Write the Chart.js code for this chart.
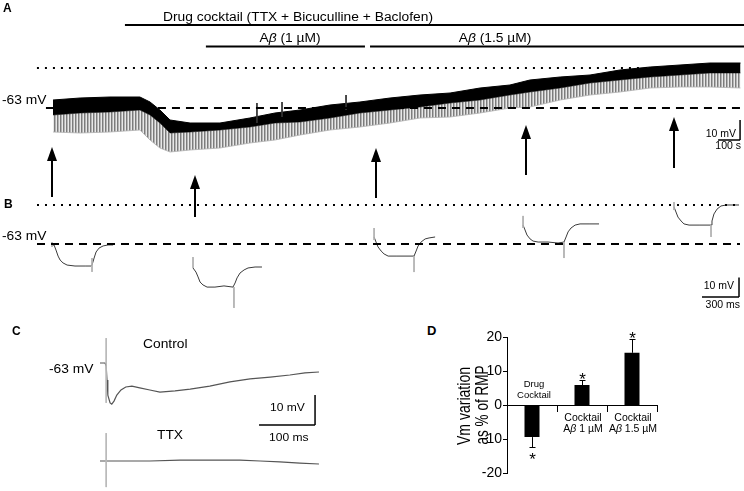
<!DOCTYPE html>
<html>
<head>
<meta charset="utf-8">
<title>Vm during drug cocktail and Aβ</title>
<script src="https://cdn.jsdelivr.net/npm/chart.js@4.4.1/dist/chart.umd.min.js"></script>
<style>
  html, body { margin: 0; padding: 0; background: #fff; }
  #fig { position: relative; width: 744px; height: 491px; overflow: hidden; font-family: "Liberation Sans", Arial, sans-serif; color: #000; }
  #fig canvas { position: absolute; }
  .lbl { position: absolute; white-space: nowrap; line-height: 1; }
</style>
</head>
<body>
<div id="fig">
  <canvas id="panelA" width="744" height="230" style="left:0px;top:0px"></canvas>
  <canvas id="panelB" width="744" height="130" style="left:0px;top:190px"></canvas>
  <canvas id="panelC" width="372" height="171" style="left:0px;top:320px"></canvas>
  <canvas id="panelD" width="270" height="171" style="left:450px;top:320px"></canvas>
</div>
<script>
// A: long recording, time in s, Vm in mV (band top, band bottom, end of the grey deflections)
const traceTime = [0, 123, 259, 395, 441, 486, 532, 623, 759, 895, 1009, 1123, 1259, 1395, 1532, 1668, 1805, 1941, 2077, 2168, 2305, 2441, 2577, 2714, 2850, 2986, 3125]
const traceTop = [-59, -58, -57.5, -57.5, -60, -64, -69, -70.5, -70.5, -68, -65.5, -64, -61.5, -60, -58, -56.5, -55.5, -53, -51.5, -49, -47.5, -46.5, -44, -42.5, -41.5, -40.5, -40.5]
const traceBase = [-66.5, -65.5, -65, -64, -66.5, -70.5, -75.5, -75, -74, -72.5, -70.5, -70, -68, -65.5, -64, -62.5, -60.5, -59, -56.5, -55, -53, -50.5, -49, -47.5, -46.5, -45.5, -45.5]
const traceDeflection = [-75, -75.5, -75, -74, -79, -83, -85, -84, -83, -80.5, -79, -76.5, -74, -72.5, -70.5, -68, -67.5, -65.5, -63, -62.5, -59, -56.5, -55, -53, -52.5, -52.5, -53]
const spikeTime = [927, 1041, 1332]
const spikeTop = [-60.5, -60, -56.5]
const spikeBottom = [-70.5, -67.5, -64]
const arrowTime = [-4.5, 645, 1468, 2150, 2823]
const arrowTip = [-82.5, -96.5, -83, -71.5, -67.5]
const arrowTail = [-107.5, -117.5, -108, -96.5, -93]
const drugStart = [327, 695, 1441]
const drugEnd = [3141, 1418, 3141]
const drugRow = [-21.5, -32.3, -32.3]
const restVm = -63
const finalVm = -43

// B: responses to hyperpolarizing steps, time in ms from sweep start
const sweepOffset = [422, 1565, 3033, 4241, 5465]
const sweepTime = [
  [0, 16, 32, 49, 65, 89, 122, 186, 268, 316, 324, 341, 357, 381, 414, 454, 495],
  [0, 24, 41, 57, 81, 114, 178, 251, 324, 341, 357, 381, 414, 446, 503, 559],
  [0, 16, 32, 57, 81, 114, 178, 259, 324, 341, 357, 381, 414, 446, 495],
  [0, 16, 32, 57, 81, 122, 203, 284, 332, 349, 365, 389, 422, 462, 535, 616],
  [0, 16, 32, 57, 81, 122, 203, 300, 308, 324, 349, 381, 422, 470, 527]
]
const sweepVm = [
  [-63.5, -63.5, -66.1, -69.2, -71.2, -72.7, -73.8, -74.3, -74.3, -74.3, -73.8, -70.2, -67.1, -65.1, -64.0, -63.5, -63.5],
  [-75.3, -77.4, -79.9, -82.5, -84.0, -85.1, -85.1, -84.5, -85.1, -83.0, -80.4, -77.9, -76.3, -75.3, -74.8, -74.8],
  [-59.4, -62.0, -64.5, -66.6, -68.1, -69.2, -69.2, -69.2, -69.2, -66.6, -64.0, -62.0, -60.4, -59.9, -59.4],
  [-53.3, -55.8, -58.4, -60.4, -61.5, -62.0, -62.0, -62.5, -62.0, -59.4, -56.8, -54.8, -53.3, -52.7, -52.7, -52.7],
  [-44.0, -46.6, -49.2, -51.2, -52.7, -53.3, -53.3, -53.3, -51.2, -47.6, -45.1, -43.5, -43.0, -43.0, -43.0]
]
const sweepOnVm = [[-62, -64.5], [-69.7, -75.3], [-54.8, -61.0], [-48.6, -54.8], [-41.5, -45.6]]
const sweepOffTime = [324, 332, 324, 332, 300]
const sweepOffVm = [[-70.2, -77.3], [-85.1, -95.8], [-69.2, -77.4], [-62.0, -70.2], [-53.3, -59.4]]

// C: single stimulus, time in ms
const controlTime = [0, 9, 11, 12.5, 14, 18, 21, 25, 30, 37.5, 46, 57, 71, 89, 107, 134, 161, 196, 232, 268, 304, 339, 366, 391]
const controlVm = [-63, -63, -64, -68.7, -73.7, -76.3, -76.7, -75.7, -73.7, -72, -71, -70.7, -71.3, -72, -72.7, -72.3, -71.7, -70.7, -69.3, -68.3, -67.7, -67, -66.3, -66]
const ttxTime = [0, 36, 89, 143, 196, 250, 286, 321, 357, 391]
const ttxVm = [-63, -63, -63, -62.7, -62.7, -62.7, -63, -63.3, -63.7, -64]
const stimTime = 11
const controlStimVm = [-54.7, -76.3]
const ttxStimVm = [-53.7, -71.7]
const ttxShift = -32.67

// D: Vm variation as % of RMP
const dCategories = [['Drug', 'Cocktail'], ['Cocktail', 'Aβ 1 µM'], ['Cocktail', 'Aβ 1.5 µM']]
const dValues = [-9.3, 6.0, 15.5]
const dErrors = [2.8, 1.5, 4.2]

const FONT = '"Liberation Sans", Arial, sans-serif'
Chart.defaults.font.family = FONT
Chart.defaults.color = '#000'

const $fig = document.getElementById('fig')

function addLabel (html, x, y, { size = 12, align = 'left', bold = false, stretch = 1, rotate = 0 } = {}) {
  const $el = document.createElement('div')
  $el.className = 'lbl'
  $el.innerHTML = html
  $el.style.left = x + 'px'
  $el.style.top = y + 'px'
  $el.style.fontSize = size + 'px'
  if (bold) $el.style.fontWeight = 'bold'
  const shift = { left: '0', center: '-50%', right: '-100%' }[align]
  $el.style.transformOrigin = align + ' center'
  $el.style.transform = `translate(${shift}, -50%) rotate(${rotate}deg) scaleX(${stretch})`
  $fig.appendChild($el)
}

const pts = (xs, ys, dx = 0, dy = 0) => xs.map((x, i) => ({ x: x + dx, y: ys[i] + dy }))

function seg (x0, x1, y0, y1, style = {}) {
  return { data: [{ x: x0, y: y0 }, { x: x1, y: y1 }], fill: false, borderColor: '#000', borderWidth: 1, ...style }
}

function stripes () {
  const c = document.createElement('canvas')
  c.width = 3
  c.height = 1
  const g = c.getContext('2d')
  g.fillStyle = '#7c7c7c'
  g.fillRect(0, 0, 1, 1)
  g.fillStyle = '#b4b4b4'
  g.fillRect(1, 0, 1, 1)
  g.fillStyle = '#e8e8e8'
  g.fillRect(2, 0, 1, 1)
  return g.createPattern(c, 'repeat')
}

function traceChart (id, xMin, xMax, yMin, yMax, datasets, plugins = []) {
  return new Chart(document.getElementById(id), {
    type: 'line',
    data: { datasets },
    plugins,
    options: {
      responsive: false,
      animation: false,
      devicePixelRatio: 1,
      events: [],
      layout: { padding: 0 },
      scales: {
        x: { type: 'linear', display: false, min: xMin, max: xMax },
        y: { type: 'linear', display: false, min: yMin, max: yMax }
      },
      elements: { point: { radius: 0 }, line: { tension: 0, borderCapStyle: 'butt' } },
      plugins: { legend: { display: false }, tooltip: { enabled: false } }
    }
  })
}

const arrowPlugin = {
  id: 'arrows',
  afterDatasetsDraw (chart) {
    const { ctx, scales: { x, y } } = chart
    ctx.save()
    ctx.fillStyle = '#000'
    ctx.strokeStyle = '#000'
    ctx.lineWidth = 2
    arrowTime.forEach((t, i) => {
      const px = Math.round(x.getPixelForValue(t))
      const tip = y.getPixelForValue(arrowTip[i])
      const tail = y.getPixelForValue(arrowTail[i])
      ctx.beginPath()
      ctx.moveTo(px, tail)
      ctx.lineTo(px, tip + 10)
      ctx.stroke()
      ctx.beginPath()
      ctx.moveTo(px, tip)
      ctx.lineTo(px - 5, tip + 14)
      ctx.lineTo(px + 5, tip + 14)
      ctx.closePath()
      ctx.fill()
    })
    ctx.restore()
  }
}

// Panel A
const panelA = [
  seg(-73, 3125, finalVm, finalVm, { borderWidth: 2, borderDash: [2, 6] }),
  seg(-32, 3125, restVm, restVm, { borderWidth: 2, borderDash: [8, 6] }),
  seg(3023, 3123, -79, -79, { borderWidth: 1.5 }),
  seg(3123, 3123, -79, -69, { borderWidth: 1.5 })
]
drugStart.forEach((t, i) => panelA.push(seg(t, drugEnd[i], drugRow[i], drugRow[i], { borderWidth: 2 })))
spikeTime.forEach((t, i) => panelA.push(seg(t, t, spikeTop[i], spikeBottom[i], { borderColor: '#333' })))
panelA.push(
  { data: pts(traceTime, traceTop), borderColor: '#000', borderWidth: 1, fill: false },
  { data: pts(traceTime, traceBase), borderColor: '#000', borderWidth: 0.5, fill: '-1', backgroundColor: '#000' },
  { data: pts(traceTime, traceDeflection), borderColor: '#b0b0b0', borderWidth: 0.8, fill: '-1', backgroundColor: stripes() }
)
traceChart('panelA', -240.9, 3140.9, -124, -9, panelA, [arrowPlugin])

// Panel B
const panelB = [
  seg(300, 6000, finalVm, finalVm, { borderWidth: 2, borderDash: [2, 6] }),
  seg(300, 6000, restVm, restVm, { borderWidth: 2, borderDash: [8, 6] }),
  seg(5692, 5992, -90.2, -90.2, { borderWidth: 1.5 }),
  seg(5992, 5992, -90.2, -80.2, { borderWidth: 1.5 })
]
sweepOffset.forEach((t0, i) => {
  panelB.push(seg(t0, t0, sweepOnVm[i][0], sweepOnVm[i][1], { borderColor: '#b0b0b0' }))
  panelB.push(seg(t0 + sweepOffTime[i], t0 + sweepOffTime[i], sweepOffVm[i][0], sweepOffVm[i][1], { borderColor: '#b0b0b0' }))
  panelB.push({ data: pts(sweepTime[i], sweepVm[i], t0), borderColor: '#3a3a3a', borderWidth: 1, fill: false })
})
traceChart('panelB', 0, 6032.5, -101.98, -35.31, panelB)

// Panel C
const panelC = [
  seg(284, 384, -83.67, -83.67, { borderWidth: 1.5 }),
  seg(384, 384, -83.67, -73.67, { borderWidth: 1.5 }),
  seg(stimTime, stimTime, controlStimVm[0], controlStimVm[1], { borderColor: '#b8b8b8' }),
  seg(stimTime, stimTime, ttxStimVm[0] + ttxShift, ttxStimVm[1] + ttxShift, { borderColor: '#b8b8b8' }),
  { data: pts(controlTime, controlVm), borderColor: '#555', borderWidth: 1.2, fill: false },
  { data: pts(ttxTime, ttxVm, 0, ttxShift), borderColor: '#555', borderWidth: 1.2, fill: false }
]
traceChart('panelC', -178.57, 485.7, -105.67, -48.67, panelC)

// Panel D
function drawRich (ctx, text, cx, cy, size) {
  const parts = text.split(/(β)/).filter(Boolean)
  const fontFor = (p) => `${p === 'β' ? 'italic ' : ''}${size}px ${FONT}`
  let width = 0
  parts.forEach(p => { ctx.font = fontFor(p); width += ctx.measureText(p).width })
  let px = cx - width / 2
  ctx.textAlign = 'left'
  ctx.textBaseline = 'middle'
  parts.forEach(p => {
    ctx.font = fontFor(p)
    ctx.fillText(p, px, cy)
    px += ctx.measureText(p).width
  })
}

const barExtras = {
  id: 'barExtras',
  afterDatasetsDraw (chart) {
    const { ctx, scales: { x, y } } = chart
    const meta = chart.getDatasetMeta(0)
    const zero = y.getPixelForValue(0)
    ctx.save()
    ctx.strokeStyle = '#000'
    ctx.fillStyle = '#000'
    ctx.lineWidth = 1
    meta.data.forEach((bar, i) => {
      const dir = Math.sign(dValues[i])
      const end = Math.round(y.getPixelForValue(dValues[i] + dir * dErrors[i])) + 0.5
      const px = Math.round(bar.x) + 0.5
      ctx.beginPath()
      ctx.moveTo(px, bar.y)
      ctx.lineTo(px, end)
      ctx.moveTo(px - 3, end)
      ctx.lineTo(px + 3, end)
      ctx.stroke()
      // significance
      ctx.font = `17px ${FONT}`
      ctx.textAlign = 'center'
      ctx.textBaseline = 'alphabetic'
      ctx.fillText('*', px, dir > 0 ? end + 4 : end + 17)
      // category name sits on the side of the axis away from the bar
      const offsets = dir < 0 ? [-21, -10] : [13, 24]
      const size = dir < 0 ? 9.5 : 10.5
      dCategories[i].forEach((line, j) => drawRich(ctx, line, x.getPixelForValue(i) + (dir < 0 ? 2 : 1), zero + offsets[j], size))
    })
    ctx.restore()
  }
}

new Chart(document.getElementById('panelD'), {
  type: 'bar',
  data: {
    labels: dCategories,
    datasets: [{
      data: dValues,
      backgroundColor: '#000',
      barPercentage: 0.3,
      categoryPercentage: 1
    }]
  },
  plugins: [barExtras],
  options: {
    responsive: false,
    animation: false,
    devicePixelRatio: 1,
    events: [],
    layout: { padding: { top: 17.5, right: 63, bottom: 17.5, left: 0 } },
    scales: {
      x: {
        type: 'category',
        position: { y: 0 },
        offset: true,
        grid: { offset: true, drawOnChartArea: false, tickLength: 6, color: '#000' },
        border: { color: '#000', width: 1 },
        ticks: { display: false },
        afterFit: (s) => { s.height = 0 }
      },
      y: {
        min: -20,
        max: 20,
        grid: { drawOnChartArea: false, tickLength: 4, color: '#000' },
        border: { color: '#000', width: 1 },
        ticks: { stepSize: 5, padding: 1, font: { size: 14 }, callback: (v) => (v % 10 === 0 ? v : '') },
        afterFit: (s) => { s.width = 57 }
      }
    },
    plugins: { legend: { display: false }, tooltip: { enabled: false } }
  }
})

// Text
const main = { size: 12, stretch: 1.15 }
addLabel('A', 3, 8, { size: 12, bold: true })
addLabel('Drug cocktail (TTX + Bicuculline + Baclofen)', 298, 17, { ...main, align: 'center' })
addLabel('A<i>β</i> (1 µM)', 290, 38, { ...main, align: 'center' })
addLabel('A<i>β</i> (1.5 µM)', 495, 38, { ...main, align: 'center' })
addLabel('-63 mV', 2, 100, main)
addLabel('10 mV', 736, 134, { size: 10, stretch: 1.05, align: 'right' })
addLabel('100 s', 741, 146, { size: 10, stretch: 1.05, align: 'right' })

addLabel('B', 4, 204, { size: 12, bold: true })
addLabel('-63 mV', 2, 236, main)
addLabel('10 mV', 734, 286, { size: 10, stretch: 1.05, align: 'right' })
addLabel('300 ms', 740, 305, { size: 10, stretch: 1.05, align: 'right' })

addLabel('C', 12, 331, { size: 12, bold: true })
addLabel('-63 mV', 49, 369, main)
addLabel('Control', 143, 344, main)
addLabel('TTX', 157, 435, main)
addLabel('10 mV', 270, 407, { size: 10.5, stretch: 1.15 })
addLabel('100 ms', 269, 437, { size: 10.5, stretch: 1.15 })

addLabel('D', 427, 330, { size: 13, bold: true })
addLabel('Vm variation', 464, 406, { size: 18, align: 'center', rotate: -90, stretch: 0.78 })
addLabel('as % of RMP', 482, 405, { size: 18, align: 'center', rotate: -90, stretch: 0.75 })
</script>
</body>
</html>
